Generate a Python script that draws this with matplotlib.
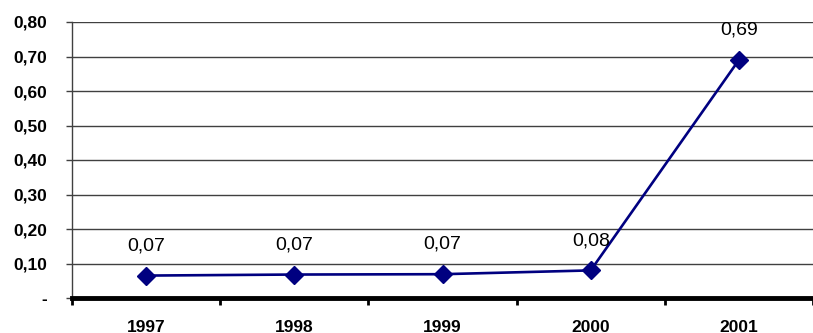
import matplotlib
matplotlib.use("Agg")
import matplotlib.pyplot as plt
from matplotlib.ticker import FixedLocator, FuncFormatter

years = ["1997", "1998", "1999", "2000", "2001"]
values = [0.065, 0.068, 0.069, 0.080, 0.690]
labels = ["0,07", "0,07", "0,07", "0,08", "0,69"]
yticks = [0.0, 0.1, 0.2, 0.3, 0.4, 0.5, 0.6, 0.7, 0.8]

plt.rcParams["font.family"] = ["Liberation Sans", "DejaVu Sans"]

W, H = 813, 333
fig = plt.figure(figsize=(W / 100, H / 100), dpi=100)
left, right, bottom, top = 72, 813, 298, 22
ax = fig.add_axes([left / W, 1 - bottom / H, (right - left) / W, (bottom - top) / H])

xs = list(range(len(years)))
ax.plot(xs, values, color="#000080", linewidth=1.9, marker="D",
        markersize=9, zorder=3, clip_on=False)
for x, v, lab in zip(xs, values, labels):
    ax.annotate(lab, (x, v), xytext=(0, 21.5), textcoords="offset points",
                ha="center", va="center", fontsize=14, color="black")

# one category = 150 px, axis runs off the right edge like the original
ax.set_xlim(-0.5, (right - left) / 150 - 0.5)
ax.set_ylim(0, 0.8)

ax.yaxis.set_major_locator(FixedLocator(yticks))
ax.yaxis.set_major_formatter(FuncFormatter(
    lambda v, _: "-" if abs(v) < 1e-9 else f"{v:.2f}".replace(".", ",")))
ax.grid(axis="y", color="#404040", linewidth=1)
ax.set_axisbelow(True)

# category boundaries carry the tick marks, labels sit at the centers
ax.set_xticks([i - 0.5 for i in range(len(years) + 1)])
ax.set_xticklabels([])
ax.set_xticks(xs, minor=True)
ax.set_xticklabels(years, minor=True, fontsize=12.5, fontweight="bold")
ax.tick_params(axis="x", which="major", direction="out", length=5, width=2,
               color="black")
ax.tick_params(axis="x", which="minor", length=0, pad=15.5)
ax.tick_params(axis="y", direction="out", length=4.3, width=1, color="#404040",
               labelsize=12.5, pad=13.5)
for t in ax.get_yticklabels():
    t.set_fontweight("bold")

for s in ("top", "right"):
    ax.spines[s].set_visible(False)
ax.spines["left"].set_color("#404040")
ax.spines["left"].set_linewidth(1)
ax.spines["bottom"].set_color("black")
ax.spines["bottom"].set_linewidth(3.5)

fig.savefig("out.png", dpi=100)
